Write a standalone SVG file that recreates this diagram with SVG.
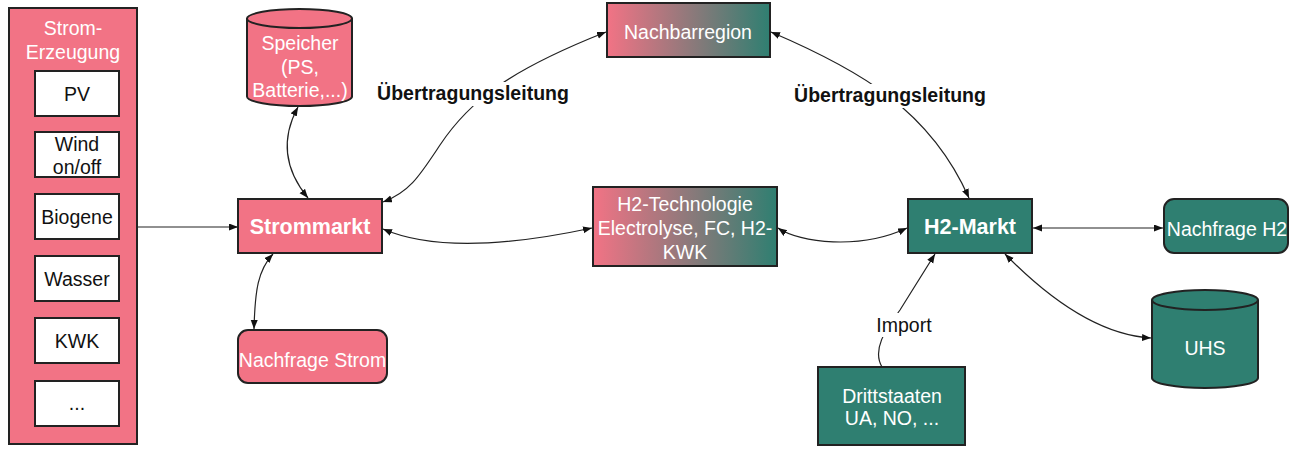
<svg xmlns="http://www.w3.org/2000/svg" width="1298" height="449" viewBox="0 0 1298 449">
<style>
text{font-family:"Liberation Sans",Arial,sans-serif;font-size:19.5px;text-anchor:middle}
.pink{fill:#F27385;stroke:#222;stroke-width:2}
.teal{fill:#2F7F71;stroke:#222;stroke-width:2}
.grad{fill:url(#pt);stroke:#222;stroke-width:2}
.white{fill:#fff;stroke:#222;stroke-width:2}
.wt{fill:#fff}
.bt{fill:#111}
.bold{font-weight:bold;font-size:21.5px}
.lbl{font-weight:bold;font-size:19.5px;fill:#111}
.c{fill:none;stroke:#222;stroke-width:1.2}
.bi{marker-start:url(#ah);marker-end:url(#ah)}
.uni{marker-end:url(#ah)}
</style>
<defs>
<linearGradient id="pt" x1="0" y1="0" x2="1" y2="0">
<stop offset="0" stop-color="#F27385"/>
<stop offset="1" stop-color="#2F7F71"/>
</linearGradient>
<marker id="ah" markerUnits="userSpaceOnUse" markerWidth="10" markerHeight="8" refX="9" refY="3.5" orient="auto-start-reverse">
<path d="M0,0 L9,3.5 L0,7 z" fill="#111"/>
</marker>
</defs>
<rect width="1298" height="449" fill="#fff"/>

<g id="connectors">
<path class="c uni" d="M137,227 L238,227"/>
<path class="c bi" d="M298,107 C280,140 285,170 308,198"/>
<path class="c bi" d="M273,254 C258,270 255,290 254,329"/>
<path class="c bi" d="M383,202 C410,192 420,175 440,145 C470,100 510,70 606,32"/>
<path class="c bi" d="M383,229 C420,245 480,252 592,228"/>
<path class="c bi" d="M778,228 C800,243 860,250 907,228"/>
<path class="c bi" d="M771,32 C860,70 930,110 969,198"/>
<path class="c bi" d="M1033,228 L1163,228"/>
<path class="c bi" d="M1005,254 C1050,300 1100,335 1151,338"/>
<path class="c uni" d="M882,367 C872,350 885,330 900,310 L935,254"/>
</g>

<g id="labels">
<rect x="374" y="82" width="198" height="24" fill="#fff"/>
<text class="lbl" x="473" y="100">Übertragungsleitung</text>
<rect x="791" y="84" width="198" height="24" fill="#fff"/>
<text class="lbl" x="890" y="102">Übertragungsleitung</text>
<rect x="876" y="313" width="57" height="24" fill="#fff"/>
<text class="bt" x="904" y="332">Import</text>
</g>

<g id="strom-erzeugung">
<rect class="pink" x="9" y="8" width="128" height="436"/>
<text class="wt" x="73" y="35">Strom-</text>
<text class="wt" x="73" y="59">Erzeugung</text>
</g>
<g id="pv"><rect class="white" x="35" y="71" width="84" height="45"/><text class="bt" x="77" y="100.5">PV</text></g>
<g id="wind"><rect class="white" x="35" y="132" width="84" height="45"/><text class="bt" x="77" y="151">Wind</text><text class="bt" x="77" y="174">on/off</text></g>
<g id="biogene"><rect class="white" x="35" y="194" width="84" height="45"/><text class="bt" x="77" y="223.5">Biogene</text></g>
<g id="wasser"><rect class="white" x="35" y="256" width="84" height="45"/><text class="bt" x="77" y="285.5">Wasser</text></g>
<g id="kwk"><rect class="white" x="35" y="318" width="84" height="45"/><text class="bt" x="77" y="347.5">KWK</text></g>
<g id="more"><rect class="white" x="35" y="381" width="84" height="45"/><text class="bt" x="77" y="410">...</text></g>

<g id="speicher">
<path class="pink" d="M247,18.5 A52.5,9.5 0 0 1 352,18.5 V96.5 A52.5,9.5 0 0 1 247,96.5 Z"/>
<path fill="none" stroke="#222" stroke-width="2" d="M247,18.5 A52.5,9.5 0 0 0 352,18.5"/>
<text class="wt" x="300" y="50">Speicher</text>
<text class="wt" x="300" y="74">(PS,</text>
<text class="wt" x="300" y="97">Batterie,...)</text>
</g>

<g id="strommarkt">
<rect class="pink" x="238" y="199" width="144" height="54"/>
<text class="wt bold" x="310" y="233.5">Strommarkt</text>
</g>

<g id="nachfrage-strom">
<rect class="pink" x="238" y="330" width="149" height="53" rx="10"/>
<text class="wt" x="312.5" y="367">Nachfrage Strom</text>
</g>

<g id="nachbarregion">
<rect class="grad" x="607" y="3" width="163" height="54"/>
<text class="wt" x="688" y="39">Nachbarregion</text>
</g>

<g id="h2-technologie">
<rect class="grad" x="593" y="187" width="184" height="79"/>
<text class="wt" x="685" y="211">H2-Technologie</text>
<text class="wt" x="685" y="235">Electrolyse, FC, H2-</text>
<text class="wt" x="685" y="259">KWK</text>
</g>

<g id="h2-markt">
<rect class="teal" x="908" y="199" width="124" height="54"/>
<text class="wt bold" x="970" y="233.5">H2-Markt</text>
</g>

<g id="nachfrage-h2">
<rect class="teal" x="1164" y="199" width="124" height="54" rx="10"/>
<text class="wt" x="1227" y="236">Nachfrage H2</text>
</g>

<g id="uhs">
<path class="teal" d="M1152,300 A53,10 0 0 1 1258,300 V378 A53,10 0 0 1 1152,378 Z"/>
<path fill="none" stroke="#222" stroke-width="2" d="M1152,300 A53,10 0 0 0 1258,300"/>
<text class="wt" x="1205" y="355">UHS</text>
</g>

<g id="drittstaaten">
<rect class="teal" x="818" y="367" width="147" height="78"/>
<text class="wt" x="892" y="403">Drittstaaten</text>
<text class="wt" x="892" y="425">UA, NO, ...</text>
</g>
</svg>
